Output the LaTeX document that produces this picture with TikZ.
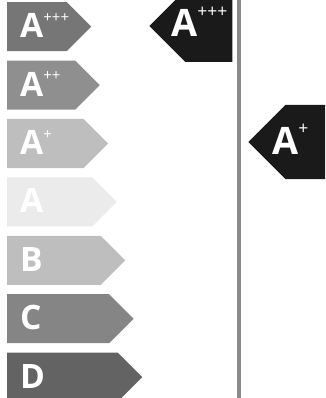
\documentclass[tikz,border=0pt]{standalone}
\usepackage{fontspec}
\setmainfont{Open Sans}
\usepackage{tikz}
\usetikzlibrary{shapes.symbols,positioning}

\definecolor{gAppp}{HTML}{767676}
\definecolor{gApp}{HTML}{8F8F8F}
\definecolor{gAp}{HTML}{BEBEBE}
\definecolor{gA}{HTML}{EBEBEB}
\definecolor{gB}{HTML}{BEBEBE}
\definecolor{gC}{HTML}{858585}
\definecolor{gD}{HTML}{636363}
\definecolor{tagblack}{HTML}{1A1A1A}
\definecolor{divgray}{HTML}{8A8A8A}

% raised plus signs after the letter
\newcommand{\up}[3]{\raisebox{#1}{\fontsize{#2}{#2}\selectfont\mdseries #3}}

\begin{document}
\begin{tikzpicture}[
    x=1pt, y=1pt,
    bar/.style={signal, signal to=east, signal pointer angle=90, draw=none, inner sep=0pt, minimum height=49pt},
    tag/.style={signal, signal to=west, signal pointer angle=90, draw=none, fill=tagblack, inner sep=0pt},
    grade/.style={text=white, font=\fontsize{33.6}{34}\selectfont\bfseries, inner sep=0pt, anchor=base west},
    biggrade/.style={text=white, font=\fontsize{37.8}{38}\selectfont\bfseries, inner sep=0pt, anchor=base west}
]
\useasboundingbox (0,-398) rectangle (325,0);
\clip (0,-398) rectangle (325,0);

% scale of classes
\node[bar, fill=gAppp, minimum width=84pt, anchor=north west] (appp) at (7,-2) {};
\node[bar, fill=gApp, minimum width=92.5pt, below=9pt of appp.south west, anchor=north west] (app) {};
\node[bar, fill=gAp, minimum width=101pt, below=9pt of app.south west, anchor=north west] (ap) {};
\node[bar, fill=gA, minimum width=109.5pt, below=9pt of ap.south west, anchor=north west] (a) {};
\node[bar, fill=gB, minimum width=118pt, below=9pt of a.south west, anchor=north west] (b) {};
\node[bar, fill=gC, minimum width=126.5pt, below=9pt of b.south west, anchor=north west] (c) {};
\node[bar, fill=gD, minimum width=135pt, below=9pt of c.south west, anchor=north west] (d) {};

\node[grade] (lappp) at ([xshift=13pt,yshift=-11pt]appp.west) {A\up{15.5pt}{15}{+++}};
\node[grade] (lapp) at ([xshift=13pt,yshift=-11pt]app.west) {A\up{15.5pt}{15}{++}};
\node[grade] (lap) at ([xshift=13pt,yshift=-11pt]ap.west) {A\up{15.5pt}{15}{+}};
\node[grade] (la) at ([xshift=13pt,yshift=-11pt]a.west) {A};
\node[grade] (lb) at ([xshift=13pt,yshift=-11pt]b.west) {B};
\node[grade] (lc) at ([xshift=13pt,yshift=-11pt]c.west) {C};
\node[grade] (ld) at ([xshift=13pt,yshift=-11pt]d.west) {D};

% divider
\coordinate (divtop) at (239,0);
\coordinate (divbot) at (239,-398);
\draw[divgray, line width=3.5pt] (divtop) -- (divbot);

% black markers
\node[tag, minimum width=83pt, minimum height=72pt, anchor=west] (now) at (149,-26) {};
\node[biggrade] (lnow) at ([xshift=22pt,yshift=-11pt]now.west) {A\up{19.5pt}{17.5}{+++}};

\node[tag, minimum width=90pt, minimum height=74pt, anchor=west] (new) at (248,-142) {};
\node[biggrade] (lnew) at ([xshift=24pt,yshift=-12pt]new.west) {A\up{20pt}{17.5}{+}};

\end{tikzpicture}
\end{document}
